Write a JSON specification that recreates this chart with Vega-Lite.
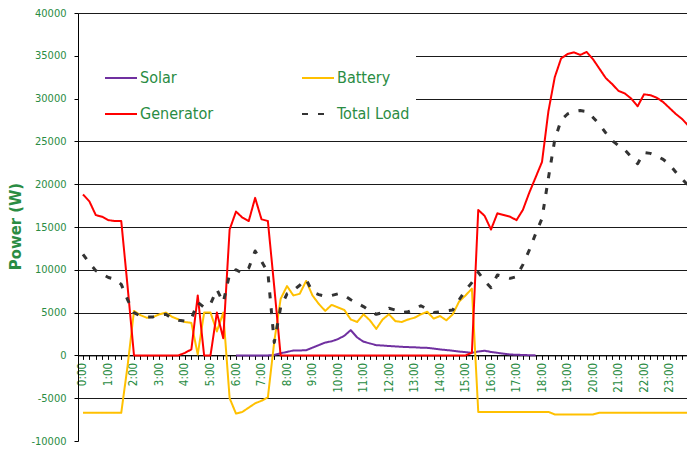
{
  "$schema": "https://vega.github.io/schema/vega-lite/v6.json",
  "width": 609,
  "height": 428,
  "autosize": {"type": "none"},
  "padding": {"left": 78, "top": 13, "right": 0, "bottom": 8},
  "background": "white",
  "config": {"view": {"stroke": null}, "font": "DejaVu Sans Condensed, DejaVu Sans"},
  "data": {"values": [
    {"t": 0, "Solar": null, "Battery": -6700, "Generator": 18800, "Total Load": 11800},
    {"t": 0.25, "Solar": null, "Battery": -6700, "Generator": 18000, "Total Load": 10800},
    {"t": 0.5, "Solar": null, "Battery": -6700, "Generator": 16400, "Total Load": 9900},
    {"t": 0.75, "Solar": null, "Battery": -6700, "Generator": 16200, "Total Load": 9500},
    {"t": 1, "Solar": null, "Battery": -6700, "Generator": 15800, "Total Load": 9100},
    {"t": 1.25, "Solar": null, "Battery": -6700, "Generator": 15700, "Total Load": 8900},
    {"t": 1.5, "Solar": null, "Battery": -6700, "Generator": 15700, "Total Load": 8300},
    {"t": 1.75, "Solar": null, "Battery": -1200, "Generator": 8000, "Total Load": 6500},
    {"t": 2, "Solar": null, "Battery": 5200, "Generator": 0, "Total Load": 5000},
    {"t": 2.25, "Solar": null, "Battery": 4700, "Generator": 0, "Total Load": 4600},
    {"t": 2.5, "Solar": null, "Battery": 4400, "Generator": 0, "Total Load": 4500},
    {"t": 2.75, "Solar": null, "Battery": 4500, "Generator": 0, "Total Load": 4500},
    {"t": 3, "Solar": null, "Battery": 4800, "Generator": 0, "Total Load": 4700},
    {"t": 3.25, "Solar": null, "Battery": 5000, "Generator": 0, "Total Load": 4800},
    {"t": 3.5, "Solar": null, "Battery": 4500, "Generator": 0, "Total Load": 4300},
    {"t": 3.75, "Solar": null, "Battery": 4200, "Generator": 0, "Total Load": 4100},
    {"t": 4, "Solar": null, "Battery": 3900, "Generator": 300, "Total Load": 4000},
    {"t": 4.25, "Solar": null, "Battery": 3800, "Generator": 700, "Total Load": 4300},
    {"t": 4.5, "Solar": null, "Battery": 100, "Generator": 7000, "Total Load": 6200},
    {"t": 4.75, "Solar": null, "Battery": 5000, "Generator": 0, "Total Load": 5600},
    {"t": 5, "Solar": null, "Battery": 5000, "Generator": 0, "Total Load": 6000},
    {"t": 5.25, "Solar": null, "Battery": 2800, "Generator": 5000, "Total Load": 7700},
    {"t": 5.5, "Solar": null, "Battery": 5000, "Generator": 2000, "Total Load": 6200},
    {"t": 5.75, "Solar": null, "Battery": -5000, "Generator": 14700, "Total Load": 9500},
    {"t": 6, "Solar": 0, "Battery": -6800, "Generator": 16800, "Total Load": 10000},
    {"t": 6.25, "Solar": 0, "Battery": -6600, "Generator": 16100, "Total Load": 9600},
    {"t": 6.5, "Solar": 0, "Battery": -6100, "Generator": 15700, "Total Load": 10200},
    {"t": 6.75, "Solar": 0, "Battery": -5600, "Generator": 18400, "Total Load": 12200},
    {"t": 7, "Solar": 0, "Battery": -5300, "Generator": 15900, "Total Load": 11000},
    {"t": 7.25, "Solar": 0, "Battery": -4900, "Generator": 15700, "Total Load": 9700},
    {"t": 7.5, "Solar": 50, "Battery": 1600, "Generator": 8000, "Total Load": 1500},
    {"t": 7.75, "Solar": 250, "Battery": 6600, "Generator": 0, "Total Load": 5600},
    {"t": 8, "Solar": 400, "Battery": 8100, "Generator": 0, "Total Load": 7200},
    {"t": 8.25, "Solar": 580, "Battery": 7000, "Generator": 0, "Total Load": 7600},
    {"t": 8.5, "Solar": 580, "Battery": 7200, "Generator": 0, "Total Load": 8200},
    {"t": 8.75, "Solar": 600, "Battery": 8700, "Generator": 0, "Total Load": 8900},
    {"t": 9, "Solar": 900, "Battery": 7000, "Generator": 0, "Total Load": 7400},
    {"t": 9.25, "Solar": 1200, "Battery": 6000, "Generator": 0, "Total Load": 7100},
    {"t": 9.5, "Solar": 1500, "Battery": 5200, "Generator": 0, "Total Load": 6900},
    {"t": 9.75, "Solar": 1650, "Battery": 5900, "Generator": 0, "Total Load": 7000},
    {"t": 10, "Solar": 1900, "Battery": 5600, "Generator": 0, "Total Load": 7200},
    {"t": 10.25, "Solar": 2300, "Battery": 5300, "Generator": 0, "Total Load": 7000},
    {"t": 10.5, "Solar": 2950, "Battery": 4200, "Generator": 0, "Total Load": 6500},
    {"t": 10.75, "Solar": 2100, "Battery": 3900, "Generator": 0, "Total Load": 6100},
    {"t": 11, "Solar": 1600, "Battery": 4800, "Generator": 0, "Total Load": 5700},
    {"t": 11.25, "Solar": 1400, "Battery": 4100, "Generator": 0, "Total Load": 5200},
    {"t": 11.5, "Solar": 1200, "Battery": 3100, "Generator": 0, "Total Load": 4800},
    {"t": 11.75, "Solar": 1150, "Battery": 4200, "Generator": 0, "Total Load": 5000},
    {"t": 12, "Solar": 1100, "Battery": 4800, "Generator": 0, "Total Load": 5500},
    {"t": 12.25, "Solar": 1050, "Battery": 4000, "Generator": 0, "Total Load": 5300},
    {"t": 12.5, "Solar": 1000, "Battery": 3900, "Generator": 0, "Total Load": 5000},
    {"t": 12.75, "Solar": 970, "Battery": 4200, "Generator": 0, "Total Load": 5100},
    {"t": 13, "Solar": 950, "Battery": 4400, "Generator": 0, "Total Load": 5400},
    {"t": 13.25, "Solar": 900, "Battery": 4800, "Generator": 0, "Total Load": 5800},
    {"t": 13.5, "Solar": 880, "Battery": 5100, "Generator": 0, "Total Load": 5400},
    {"t": 13.75, "Solar": 800, "Battery": 4300, "Generator": 0, "Total Load": 5000},
    {"t": 14, "Solar": 700, "Battery": 4600, "Generator": 0, "Total Load": 5100},
    {"t": 14.25, "Solar": 620, "Battery": 4100, "Generator": 0, "Total Load": 5200},
    {"t": 14.5, "Solar": 550, "Battery": 4800, "Generator": 0, "Total Load": 5300},
    {"t": 14.75, "Solar": 450, "Battery": 6300, "Generator": 0, "Total Load": 6500},
    {"t": 15, "Solar": 380, "Battery": 7000, "Generator": 0, "Total Load": 7600},
    {"t": 15.25, "Solar": 300, "Battery": 7800, "Generator": 300, "Total Load": 8500},
    {"t": 15.5, "Solar": 450, "Battery": -6600, "Generator": 17000, "Total Load": 9700},
    {"t": 15.75, "Solar": 550, "Battery": -6600, "Generator": 16300, "Total Load": 8700},
    {"t": 16, "Solar": 400, "Battery": -6600, "Generator": 14700, "Total Load": 7900},
    {"t": 16.25, "Solar": 300, "Battery": -6600, "Generator": 16600, "Total Load": 9400},
    {"t": 16.5, "Solar": 200, "Battery": -6600, "Generator": 16400, "Total Load": 9200},
    {"t": 16.75, "Solar": 100, "Battery": -6600, "Generator": 16200, "Total Load": 9000},
    {"t": 17, "Solar": 80, "Battery": -6600, "Generator": 15800, "Total Load": 9200},
    {"t": 17.25, "Solar": 50, "Battery": -6600, "Generator": 17000, "Total Load": 10600},
    {"t": 17.5, "Solar": 20, "Battery": -6600, "Generator": 19000, "Total Load": 12300},
    {"t": 17.75, "Solar": 0, "Battery": -6600, "Generator": 20800, "Total Load": 14200},
    {"t": 18, "Solar": null, "Battery": -6600, "Generator": 22600, "Total Load": 16000},
    {"t": 18.25, "Solar": null, "Battery": -6600, "Generator": 28500, "Total Load": 20700},
    {"t": 18.5, "Solar": null, "Battery": -6900, "Generator": 32500, "Total Load": 25200},
    {"t": 18.75, "Solar": null, "Battery": -6900, "Generator": 34700, "Total Load": 27500},
    {"t": 19, "Solar": null, "Battery": -6900, "Generator": 35200, "Total Load": 28200},
    {"t": 19.25, "Solar": null, "Battery": -6900, "Generator": 35400, "Total Load": 28500},
    {"t": 19.5, "Solar": null, "Battery": -6900, "Generator": 35100, "Total Load": 28600},
    {"t": 19.75, "Solar": null, "Battery": -6900, "Generator": 35450, "Total Load": 28500},
    {"t": 20, "Solar": null, "Battery": -6900, "Generator": 34600, "Total Load": 27800},
    {"t": 20.25, "Solar": null, "Battery": -6700, "Generator": 33500, "Total Load": 27000},
    {"t": 20.5, "Solar": null, "Battery": -6700, "Generator": 32400, "Total Load": 26000},
    {"t": 20.75, "Solar": null, "Battery": -6700, "Generator": 31700, "Total Load": 25100},
    {"t": 21, "Solar": null, "Battery": -6700, "Generator": 30900, "Total Load": 24500},
    {"t": 21.25, "Solar": null, "Battery": -6700, "Generator": 30600, "Total Load": 24000},
    {"t": 21.5, "Solar": null, "Battery": -6700, "Generator": 30000, "Total Load": 23200},
    {"t": 21.75, "Solar": null, "Battery": -6700, "Generator": 29100, "Total Load": 22400},
    {"t": 22, "Solar": null, "Battery": -6700, "Generator": 30500, "Total Load": 23700},
    {"t": 22.25, "Solar": null, "Battery": -6700, "Generator": 30400, "Total Load": 23600},
    {"t": 22.5, "Solar": null, "Battery": -6700, "Generator": 30100, "Total Load": 23300},
    {"t": 22.75, "Solar": null, "Battery": -6700, "Generator": 29600, "Total Load": 22900},
    {"t": 23, "Solar": null, "Battery": -6700, "Generator": 28900, "Total Load": 22300},
    {"t": 23.25, "Solar": null, "Battery": -6700, "Generator": 28200, "Total Load": 21400},
    {"t": 23.5, "Solar": null, "Battery": -6700, "Generator": 27600, "Total Load": 20600},
    {"t": 23.75, "Solar": null, "Battery": -6700, "Generator": 26800, "Total Load": 19800}
  ]},
  "transform": [{"fold": ["Solar", "Battery", "Generator", "Total Load"], "as": ["series", "power"]}],
  "mark": {"type": "line", "clip": true, "strokeCap": "butt", "strokeJoin": "round"},
  "encoding": {
    "x": {
      "field": "t", "type": "quantitative",
      "scale": {"domain": [-0.196, 23.686], "nice": false, "zero": false},
      "axis": {
        "title": null,
        "values": [0,0.25,0.5,0.75,1,1.25,1.5,1.75,2,2.25,2.5,2.75,3,3.25,3.5,3.75,4,4.25,4.5,4.75,5,5.25,5.5,5.75,6,6.25,6.5,6.75,7,7.25,7.5,7.75,8,8.25,8.5,8.75,9,9.25,9.5,9.75,10,10.25,10.5,10.75,11,11.25,11.5,11.75,12,12.25,12.5,12.75,13,13.25,13.5,13.75,14,14.25,14.5,14.75,15,15.25,15.5,15.75,16,16.25,16.5,16.75,17,17.25,17.5,17.75,18,18.25,18.5,18.75,19,19.25,19.5,19.75,20,20.25,20.5,20.75,21,21.25,21.5,21.75,22,22.25,22.5,22.75,23,23.25,23.5],
        "labelExpr": "datum.value % 1 == 0 ? floor(datum.value) + ':00' : ''",
        "labelAngle": -90,
        "labelColor": "#2a8c43",
        "labelFont": "DejaVu Sans Condensed, DejaVu Sans",
        "labelFontSize": 11.5,
        "labelPadding": 3,
        "labelOverlap": false,
        "labelFlush": false,
        "labelBound": false,
        "tickSize": 4,
        "tickColor": "#000000",
        "domainColor": "#000000",
        "offset": -85.6,
        "grid": false
      }
    },
    "y": {
      "field": "power", "type": "quantitative",
      "scale": {"domain": [-10000, 40000], "nice": false},
      "axis": {
        "title": "Power (W)",
        "values": [-10000, -5000, 0, 5000, 10000, 15000, 20000, 25000, 30000, 35000, 40000],
        "labelExpr": "'' + datum.value",
        "labelColor": "#2a8c43",
        "labelFont": "DejaVu Sans Condensed, DejaVu Sans",
        "labelFontSize": 11,
        "labelPadding": 8,
        "tickSize": 4,
        "tickColor": "#000000",
        "domainColor": "#000000",
        "grid": true,
        "gridColor": "#1a1a1a",
        "gridWidth": 1.2,
        "gridOpacity": {"condition": {"test": "datum.value == -10000", "value": 0}, "value": 1},
        "titleColor": "#2a8c43",
        "titleFont": "DejaVu Sans Condensed, DejaVu Sans",
        "titleFontSize": 16.5,
        "titleFontWeight": "bold",
        "titleX": -55,
        "titleY": 213
      }
    },
    "color": {
      "field": "series", "type": "nominal",
      "scale": {"domain": ["Solar", "Battery", "Generator", "Total Load"], "range": ["#7030a0", "#ffc000", "#ff0000", "#333333"]},
      "legend": {
        "title": " ",
        "titleOrient": "left",
        "titleFontSize": 4,
        "titlePadding": 19,
        "orient": "none",
        "direction": "horizontal",
        "legendX": 1,
        "legendY": 42,
        "columns": 2,
        "symbolType": "stroke",
        "symbolSize": 1024,
        "symbolStrokeWidth": 2,
        "labelFont": "DejaVu Sans Condensed, DejaVu Sans",
        "labelFontSize": 16,
        "labelColor": "#2a8c43",
        "labelOffset": 2,
        "labelLimit": 300,
        "rowPadding": 11,
        "columnPadding": 84,
        "fillColor": "white",
        "padding": 6
      }
    },
    "strokeDash": {
      "field": "series", "type": "nominal",
      "scale": {"domain": ["Solar", "Battery", "Generator", "Total Load"], "range": [[1, 0], [1, 0], [1, 0], [6, 10]]}
    },
    "strokeWidth": {"condition": {"test": "datum.series == 'Total Load'", "value": 3}, "value": 2}
  }
}
